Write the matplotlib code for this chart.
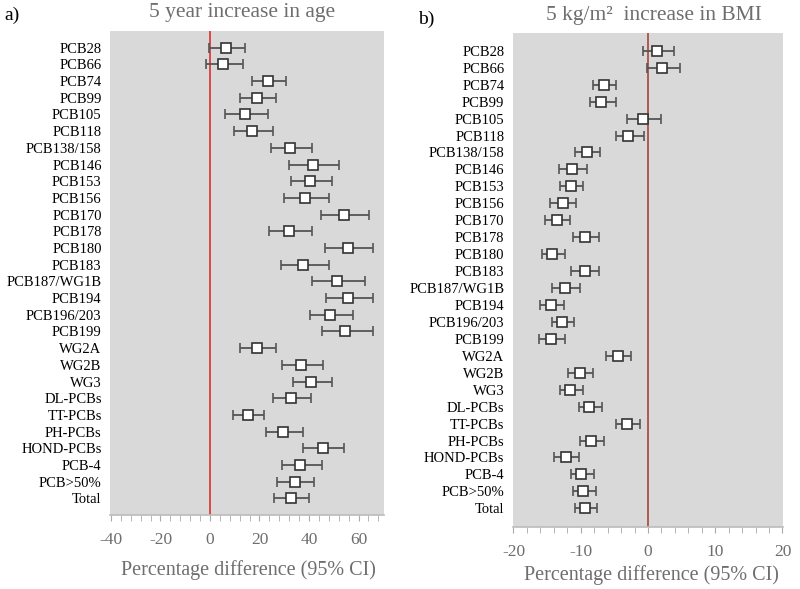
import matplotlib
matplotlib.use('Agg')
import matplotlib.pyplot as plt
from matplotlib.ticker import MultipleLocator

# Row labels (same for both panels), top to bottom.
labels = ['PCB28', 'PCB66', 'PCB74', 'PCB99', 'PCB105', 'PCB118', 'PCB138/158',
          'PCB146', 'PCB153', 'PCB156', 'PCB170', 'PCB178', 'PCB180', 'PCB183',
          'PCB187/WG1B', 'PCB194', 'PCB196/203', 'PCB199', 'WG2A', 'WG2B', 'WG3',
          'DL-PCBs', 'TT-PCBs', 'PH-PCBs', 'HOND-PCBs', 'PCB-4', 'PCB>50%', 'Total']

# a) 5 year increase in age: estimate, lower CI, upper CI
age_est = [6.5, 5.4, 23.6, 19.1, 14.1, 16.8, 32.5, 41.5, 40.5, 38.5, 54.3, 32.1, 55.9, 37.7,
           51.4, 55.8, 48.4, 54.7, 18.9, 36.8, 40.9, 32.7, 15.2, 29.6, 45.5, 36.5, 34.3, 32.7]
age_lo = [-0.4, -1.8, 17.1, 12.0, 6.1, 9.7, 24.5, 31.9, 32.7, 30.0, 45.0, 23.8, 46.6, 28.7,
          41.2, 46.9, 40.4, 45.3, 12.0, 29.2, 33.4, 25.6, 9.2, 22.5, 37.7, 29.1, 27.2, 25.9]
age_hi = [14.0, 13.5, 30.6, 26.8, 23.3, 25.5, 41.1, 52.3, 49.4, 47.9, 64.2, 41.2, 65.7, 48.1,
          62.6, 65.7, 57.6, 65.7, 26.5, 45.7, 49.4, 40.7, 21.7, 37.4, 54.3, 45.1, 42.2, 40.1]

# b) 5 kg/m2 increase in BMI
bmi_est = [1.4, 2.1, -6.6, -7.0, -0.7, -2.9, -9.1, -11.3, -11.5, -12.7, -13.6, -9.4, -14.3, -9.4,
           -12.4, -14.4, -12.8, -14.4, -4.4, -10.1, -11.6, -8.8, -3.1, -8.5, -12.2, -9.9, -9.6, -9.3]
bmi_lo = [-0.8, -0.15, -8.1, -8.6, -3.1, -4.8, -10.9, -13.2, -13.1, -14.5, -15.3, -11.2, -15.8, -11.5,
          -14.3, -16.0, -14.3, -16.2, -6.3, -11.9, -13.1, -10.3, -4.7, -10.1, -13.9, -11.5, -11.2, -10.9]
bmi_hi = [3.9, 4.7, -4.8, -4.8, 1.9, -0.6, -7.1, -9.1, -9.7, -10.7, -11.6, -7.3, -12.3, -7.3,
          -10.1, -12.5, -11.0, -12.4, -2.5, -8.2, -9.7, -6.9, -1.2, -6.5, -10.3, -8.0, -7.7, -7.6]

serif = ['Liberation Serif', 'DejaVu Serif']
plt.rcParams['font.family'] = serif
plt.rcParams['axes.unicode_minus'] = False
grey_txt = '#6e6e6e'

fig = plt.figure(figsize=(8, 5.89), dpi=100)


def forest(ax, est, lo, hi, xlim, ylim, major, minor, zcolor):
    rows = range(len(labels))
    xerr = [[e - l for e, l in zip(est, lo)], [h - e for e, h in zip(est, hi)]]
    ax.set_facecolor('#d9d9d9')
    ax.axvline(0, color=zcolor, lw=1.2, zorder=1)
    ax.errorbar(est, rows, xerr=xerr, fmt='s', ms=6.5, mfc='white', mec='#333333', mew=1.2,
                ecolor='#555555', elinewidth=1.3, capsize=3.5, capthick=1.3, zorder=3)
    ax.set_xlim(*xlim)
    ax.set_ylim(*ylim)
    ax.set_yticks(list(rows))
    ax.set_yticklabels(labels, fontsize=10.5)
    ax.tick_params(axis='y', length=0, pad=6)
    ax.xaxis.set_major_locator(MultipleLocator(major))
    ax.xaxis.set_minor_locator(MultipleLocator(minor))
    ax.tick_params(axis='x', which='both', colors='#aaaaaa', labelcolor=grey_txt,
                   labelsize=12.5, length=4, pad=8)
    for s in ['top', 'left', 'right']:
        ax.spines[s].set_visible(False)
    ax.spines['bottom'].set_color('#bbbbbb')
    ax.spines['bottom'].set_linewidth(1.2)


ax1 = fig.add_axes([0.1375, 0.1256, 0.3425, 0.8217])
forest(ax1, age_est, age_lo, age_hi, (-40.4, 70.3), (28.0, -1.0), 20, 4, '#d9302c')

ax2 = fig.add_axes([0.641, 0.1053, 0.3375, 0.8387])
forest(ax2, bmi_est, bmi_lo, bmi_hi, (-20.1, 20.05), (28.1, -1.05), 10, 2, '#a8453a')

# Titles, panel letters and axis labels
fig.text(0.303, 0.979, '5 year increase in age', ha='center', va='center',
         fontsize=15.5, color=grey_txt)
fig.text(0.818, 0.974, '5 kg/m\u00b2  increase in BMI', ha='center', va='center',
         fontsize=15.5, color=grey_txt)
fig.text(0.005, 0.974, 'a)', ha='left', va='center', fontsize=14)
fig.text(0.522, 0.968, 'b)', ha='left', va='center', fontsize=14)
fig.text(0.31, 0.032, 'Percentage difference (95% CI)', ha='center', va='center',
         fontsize=14.5, color=grey_txt)
fig.text(0.814, 0.024, 'Percentage difference (95% CI)', ha='center', va='center',
         fontsize=14.5, color=grey_txt)

fig.savefig('out.png', dpi=100)
